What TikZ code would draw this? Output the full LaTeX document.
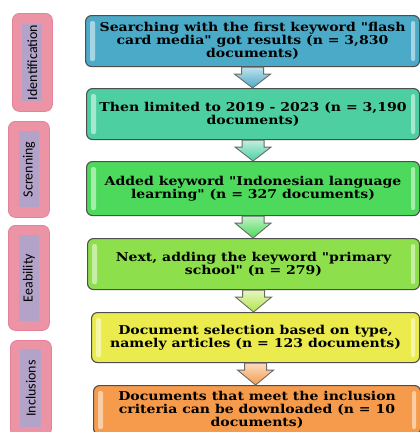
\documentclass[tikz,border=0pt]{standalone}
\usepackage{fontspec}
\usetikzlibrary{calc}
\newfontfamily\boxfont{DejaVu Serif}[FakeStretch=1.15]
\newfontfamily\labfont{Carlito}
\definecolor{boxborder}{HTML}{4E4E4E}
\definecolor{cBlue}{HTML}{4BAAC8}
\definecolor{cTeal}{HTML}{4DCFA2}
\definecolor{cGreen}{HTML}{4DD95C}
\definecolor{cLime}{HTML}{8DE04B}
\definecolor{cYellow}{HTML}{EBEB4D}
\definecolor{cOrange}{HTML}{F59B4B}
\definecolor{pinkfill}{HTML}{EC93A6}
\definecolor{pinkborder}{HTML}{E48398}
\definecolor{lilac}{HTML}{B3A3C9}
\definecolor{arrowborder}{HTML}{6A6A6A}
\tikzset{
  stepbox/.style={draw=boxborder, line width=1.1pt, rounded corners=6pt,
    anchor=north west, inner sep=0pt, align=center, text=black,
    font=\boxfont\bfseries\fontsize{12.2}{13}\selectfont},
  phase/.style={draw=pinkborder, fill=pinkfill, line width=0.8pt,
    rounded corners=7pt, anchor=north west, inner sep=0pt},
  phasein/.style={fill=lilac, inner sep=0pt, rotate=90, text=black,
    font=\labfont\fontsize{14}{16}\selectfont},
  gloss/.style={fill=white, opacity=0.5, rounded corners=2pt},
  arrowline/.style={draw=arrowborder, line width=0.9pt, line join=miter}
}
\newcommand\flowarrow[3]{%
  \draw[arrowline, top color=#3!35!white, bottom color=#3]
    let \p1=(#1.south), \p2=(#2.north) in
    (\x1-11pt,\y1) -- (\x1-11pt,\y1-7pt) -- (\x1-18pt,\y1-7pt) -- (\x1,\y2)
    -- (\x1+18pt,\y1-7pt) -- (\x1+11pt,\y1-7pt) -- (\x1+11pt,\y1) -- cycle;}
\newcommand\glossy[1]{%
  \fill[gloss] ([xshift=5pt,yshift=-6pt]#1.north west) rectangle ([xshift=10pt,yshift=6pt]#1.south west);
  \fill[gloss] ([xshift=-9pt,yshift=-6pt]#1.north east) rectangle ([xshift=-5pt,yshift=6pt]#1.south east);}
\begin{document}
\begin{tikzpicture}[x=1pt,y=-1pt]
\clip (0,0) rectangle (420,432);
\fill[white] (0,0) rectangle (420,432);

% phase labels
\node[phase, minimum width=40pt, minimum height=98pt] (p1) at (12,13) {};
\node[phasein, minimum width=77pt, minimum height=20pt] (q1) at (p1.center) {Identification};
\node[phase, minimum width=41pt, minimum height=96pt] (p2) at (8,121) {};
\node[phasein, minimum width=76pt, minimum height=20pt] (q2) at (p2.center) {Screnning};
\node[phase, minimum width=41pt, minimum height=105pt] (p3) at (8,225) {};
\node[phasein, minimum width=86pt, minimum height=20pt] (q3) at (p3.center) {Eeability};
\node[phase, minimum width=41pt, minimum height=96pt] (p4) at (10,340) {};
\node[phasein, minimum width=78pt, minimum height=21pt] (q4) at (p4.center) {Inclusions};

% steps
\node[stepbox, fill=cBlue, minimum width=334pt, minimum height=51pt] (b1) at (85,15)
  {Searching with the first keyword "flash\\card media" got results (n = 3,830\\documents)};
\node[stepbox, fill=cTeal, minimum width=333pt, minimum height=51pt] (b2) at (86,88)
  {Then limited to 2019 - 2023 (n = 3,190\\documents)};
\node[stepbox, fill=cGreen, minimum width=333pt, minimum height=54pt] (b3) at (86,161)
  {Added keyword "Indonesian language\\learning" (n = 327 documents)};
\node[stepbox, fill=cLime, minimum width=332pt, minimum height=51pt] (b4) at (87,238)
  {Next, adding the keyword "primary\\school" (n = 279)};
\node[stepbox, fill=cYellow, minimum width=328pt, minimum height=50pt] (b5) at (91,312)
  {Document selection based on type,\\namely articles (n = 123 documents)};
\node[stepbox, fill=cOrange, minimum width=327pt, minimum height=49pt] (b6) at (93,385)
  {Documents that meet the inclusion\\criteria can be downloaded (n = 10\\documents)};

\glossy{b1}\glossy{b2}\glossy{b3}\glossy{b4}\glossy{b5}\glossy{b6}

\flowarrow{b1}{b2}{cBlue}
\flowarrow{b2}{b3}{cTeal}
\flowarrow{b3}{b4}{cGreen}
\flowarrow{b4}{b5}{cLime!60!cYellow}
\flowarrow{b5}{b6}{cOrange}
\end{tikzpicture}
\end{document}
